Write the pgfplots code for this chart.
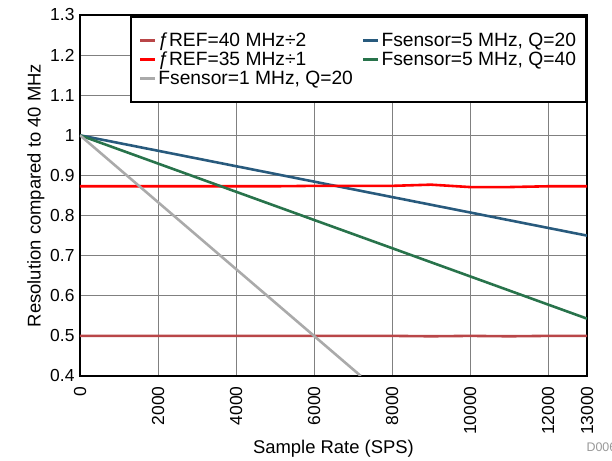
\documentclass[border=0pt]{standalone}
\usepackage{pgfplots}
\pgfplotsset{compat=1.18}
\usepackage{fontspec}
\setmainfont{Liberation Sans}
\usetikzlibrary{calc}
\definecolor{cDarkRed}{RGB}{185,70,72}
\definecolor{cRed}{RGB}{255,0,0}
\definecolor{cGray}{RGB}{170,170,170}
\definecolor{cBlue}{RGB}{40,90,125}
\definecolor{cGreen}{RGB}{40,115,75}
\begin{document}
\begin{tikzpicture}
\begin{axis}[
  name=ax,
  scale only axis,
  width=507bp, height=361bp,
  xmin=0, xmax=13000, ymin=0.4, ymax=1.3,
  xtick={0,2000,4000,6000,8000,10000,12000,13000},
  ytick={0.4,0.5,0.6,0.7,0.8,0.9,1,1.1,1.2,1.3},
  scaled x ticks=false,
  xticklabel style={yshift=-7bp, rotate=90, anchor=east, font=\fontsize{17.5}{19}\selectfont},
  yticklabel style={xshift=-2bp, font=\fontsize{17.5}{19}\selectfont},
  /pgf/number format/assume math mode=true,
  x tick label style={/pgf/number format/.cd, fixed, 1000 sep={}},
  y tick label style={/pgf/number format/.cd, fixed, precision=1},
  major tick length=0pt,
  grid=major,
  major grid style={black!50, line width=0.9pt},
  axis line style={line width=2.2bp},
  xlabel={Sample Rate (SPS)},
  ylabel={Resolution compared to 40 MHz},
  label style={font=\fontsize{18.5}{20}\selectfont},
  xlabel style={yshift=2bp},
  ylabel style={yshift=-1bp},
  legend columns=2,
  legend cell align=left,
  legend style={at={(1,1)}, anchor=north east, yshift=-1bp, draw=black, line width=2bp,
    font=\fontsize{19.3}{21}\selectfont, inner xsep=8bp, inner ysep=14bp,
    nodes={inner sep=2bp},
    /tikz/every even column/.append style={column sep=7bp}},
  legend image code/.code={\draw[#1, line width=2.6pt] (6bp,0bp) -- (21bp,0bp);},
  every axis plot/.append style={line width=2.6pt},
]
\addplot[cDarkRed] coordinates {(0,0.5) (1000,0.5) (2000,0.5) (3000,0.5) (4000,0.5) (5000,0.5) (6000,0.5) (7000,0.5) (8000,0.5) (9000,0.499) (10000,0.5) (11000,0.499) (12000,0.5) (13000,0.5)};
\addlegendentry{ƒREF=40 MHz÷2}
\addplot[cBlue] coordinates {(0,1) (13000,0.75)};
\addlegendentry{Fsensor=5 MHz, Q=20}
\addplot[cRed] coordinates {(0,0.873) (1000,0.873) (2000,0.873) (3000,0.873) (4000,0.873) (5000,0.873) (6000,0.874) (7000,0.874) (8000,0.874) (9000,0.877) (10000,0.871) (11000,0.871) (12000,0.873) (13000,0.873)};
\addlegendentry{ƒREF=35 MHz÷1}
\addplot[cGreen] coordinates {(0,1) (13000,0.543)};
\addlegendentry{Fsensor=5 MHz, Q=40}
\addplot[cGray] coordinates {(0,1) (7200,0.4)};
\addlegendentry{Fsensor=1 MHz, Q=20}
\end{axis}
\node[overlay, anchor=west, text=black!40, font=\fontsize{12.5}{14}\selectfont] at ($(ax.south east)+(-4bp,-71bp)$) {D006};
\pgfresetboundingbox
\path[use as bounding box] ($(ax.south west)+(-80bp,-85bp)$) rectangle ($(ax.north east)+(25bp,15bp)$);
\end{tikzpicture}
\end{document}
